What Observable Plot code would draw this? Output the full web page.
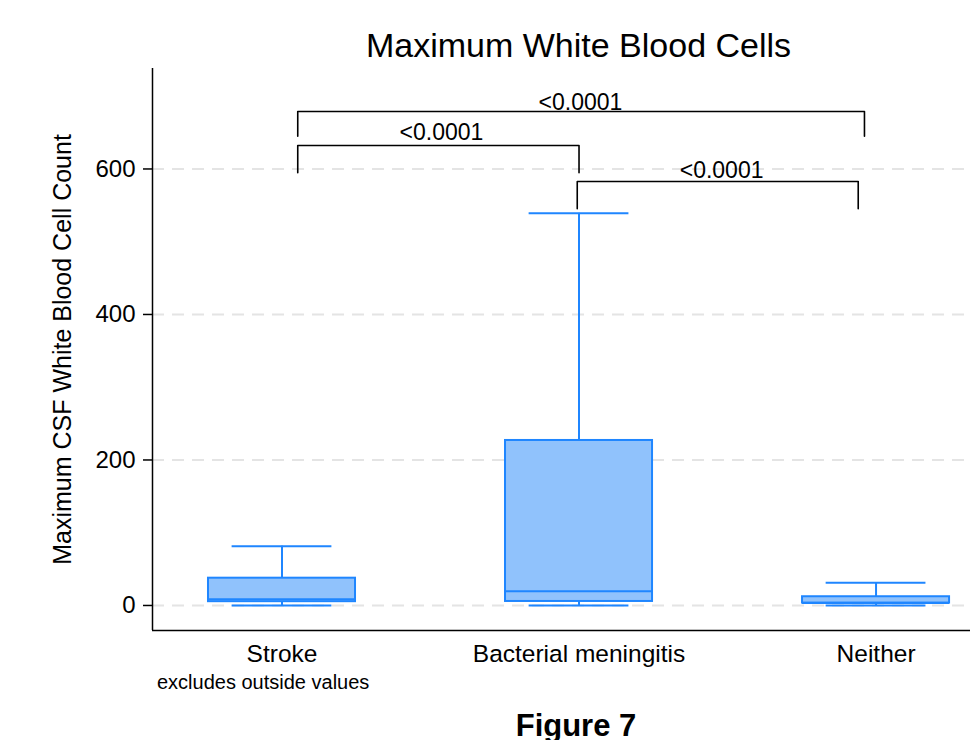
<!DOCTYPE html>
<html>
<head>
<meta charset="utf-8">
<script src="https://cdn.jsdelivr.net/npm/d3@7"></script>
<script src="https://cdn.jsdelivr.net/npm/@observablehq/plot@0.6"></script>
<style>
  html, body { margin: 0; padding: 0; background: #fff; overflow: hidden; }
  #wrap { position: relative; width: 970px; height: 740px; font-family: "Liberation Sans", Arial, Helvetica, sans-serif; color: #000; }
  #title { position: absolute; left: 578.5px; top: 28px; transform: translateX(-50%); font-size: 34px; line-height: 34px; white-space: nowrap; }
  #note { position: absolute; left: 157px; top: 672px; font-size: 20px; line-height: 20px; white-space: nowrap; }
  #fig { position: absolute; left: 576px; top: 710px; transform: translateX(-50%); font-size: 31px; line-height: 31px; font-weight: bold; white-space: nowrap; }
  #chart { position: absolute; left: 0; top: 0; }
</style>
</head>
<body>
<div id="wrap">
  <div id="chart"></div>
  <div id="title"></div>
  <div id="note"></div>
  <div id="fig"></div>
</div>
<script>
// ---- data ----
const chartTitle = "Maximum White Blood Cells";
const yTitle = "Maximum CSF White Blood Cell Count";
const noteText = "excludes outside values";
const figureText = "Figure 7";

const categories = ["Stroke", "Bacterial meningitis", "Neither"];
const lowerAdjacent = [0, 0, 0];
const q1 = [5.2, 5.5, 3.3];
const medians = [8.7, 19.7, 3.3];
const q3 = [37.5, 226.8, 12];
const upperAdjacent = [81.5, 539, 31.2];
const yTicks = [0, 200, 400, 600];

// significance brackets (x in category positions 1..3, y in data units)
const bracketStart = [1.053, 1.053, 1.994];
const bracketEnd = [2.961, 2.0, 2.94];
const bracketTop = [679, 632.3, 582.8];
const bracketFoot = [645, 594.8, 545.3];
const pLabels = ["<0.0001", "<0.0001", "<0.0001"];
const pLabelX = [2.005, 1.537, 2.48];
const pLabelY = [690.6, 649.4, 597.1];

// ---- build tables ----
const boxes = categories.map((c, i) => ({
  cat: c, pos: i + 1,
  lo: lowerAdjacent[i], q1: q1[i], med: medians[i], q3: q3[i], hi: upperAdjacent[i]
}));
const bracketPts = bracketStart.flatMap((s, i) => [
  {x: s, y: bracketFoot[i], k: i},
  {x: s, y: bracketTop[i], k: i},
  {x: bracketEnd[i], y: bracketTop[i], k: i},
  {x: bracketEnd[i], y: bracketFoot[i], k: i}
]);
const labels = pLabels.map((t, i) => ({t, x: pLabelX[i], y: pLabelY[i]}));

const blue = "#1f86ff";
const fill = "#90c2fc";
const half = 0.2475;   // half box width (category units)
const cap = 0.168;     // half whisker-cap width
const xDomain = [0.564, 3.318];
const yDomain = [-34.4, 738.1];

const plot = Plot.plot({
  width: 970,
  height: 680,
  marginTop: 68,
  marginBottom: 50,
  marginLeft: 152,
  marginRight: 0,
  style: {fontFamily: "'Liberation Sans', Arial, Helvetica, sans-serif", fontSize: "24px", color: "#000", background: "#fff"},
  x: {type: "linear", domain: xDomain},
  y: {domain: yDomain, label: null},
  marks: [
    Plot.gridY(yTicks, {stroke: "#e4e4e4", strokeOpacity: 1, strokeWidth: 2, strokeDasharray: "12,8"}),
    // whiskers
    Plot.ruleX(boxes, {x: "pos", y1: "q3", y2: "hi", stroke: blue, strokeWidth: 2}),
    Plot.ruleX(boxes, {x: "pos", y1: "lo", y2: "q1", stroke: blue, strokeWidth: 2}),
    Plot.ruleY(boxes, {y: "hi", x1: d => d.pos - cap, x2: d => d.pos + cap, stroke: blue, strokeWidth: 2}),
    Plot.ruleY(boxes, {y: "lo", x1: d => d.pos - cap, x2: d => d.pos + cap, stroke: blue, strokeWidth: 2}),
    // boxes
    Plot.rect(boxes, {x1: d => d.pos - half, x2: d => d.pos + half, y1: "q1", y2: "q3", fill: fill, stroke: blue, strokeWidth: 2}),
    Plot.ruleY(boxes, {y: "med", x1: d => d.pos - half, x2: d => d.pos + half, stroke: blue, strokeWidth: 2}),
    // axis lines
    Plot.ruleX([xDomain[0]], {stroke: "#000", strokeWidth: 1.5}),
    Plot.ruleY([yDomain[0]], {stroke: "#000", strokeWidth: 1.5}),
    // brackets
    Plot.line(bracketPts, {x: "x", y: "y", z: "k", stroke: "#000", strokeWidth: 1.6}),
    Plot.text(labels, {x: "x", y: "y", text: "t", fontSize: 23, fill: "#000"}),
    // axes
    Plot.axisY(yTicks, {tickSize: 9, tickPadding: 8, fontSize: 24, stroke: "#000", strokeWidth: 1.5, label: null}),
    Plot.axisX([1, 2, 3], {tickFormat: d => categories[d - 1], tickSize: 0, tickPadding: 14, fontSize: 24.5, label: null}),
    Plot.text([yTitle], {text: d => d, frameAnchor: "left", textAnchor: "middle", rotate: -90, dx: -90, fontSize: 25, fill: "#000"})
  ]
});
document.getElementById("chart").appendChild(plot);
document.getElementById("title").textContent = chartTitle;
document.getElementById("note").textContent = noteText;
document.getElementById("fig").textContent = figureText;
</script>
</body>
</html>
